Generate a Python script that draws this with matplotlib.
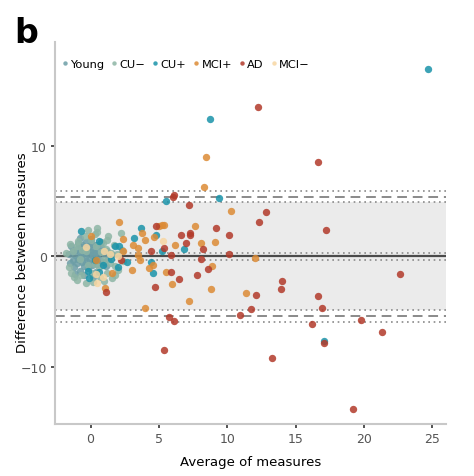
import numpy as np
import matplotlib
matplotlib.use("Agg")
import matplotlib.pyplot as plt

# Bland-Altman style data
young_x = [-1.6, -1.5, -1.4, -1.3, -1.3, -1.2, -1.1, -1.0, -1.0, -0.9, -0.9, -0.8, -0.8, -0.7,
           -0.7, -0.6, -0.6, -0.5, -0.5, -0.4, -0.4, -0.3, -0.3, -0.2, -0.2, -0.1, -0.1, 0.0,
           0.0, 0.1, 0.1, 0.2, 0.2, 0.3, 0.3, 0.4, 0.5, 0.5, 0.6, 0.7, 0.8, 0.9, 1.0, 1.1,
           1.2, 1.3, 1.5, -1.1, -0.5, 0.0, 0.4, 0.8, -0.8, 0.2]
young_y = [0.2, -0.6, 0.9, -0.3, 0.5, -1.0, 0.1, 0.7, -0.6, -0.2, 1.2, 0.4, -1.3, 0.0,
           0.8, -0.5, 1.0, 0.3, -0.9, -0.1, 0.6, 1.3, -0.4, 0.2, -1.1, 0.9, -0.6, 0.4,
           -0.2, 1.1, -0.8, 0.0, 0.6, -0.4, 0.3, 1.0, -0.7, 0.1, 0.5, -0.3, 0.8, -0.5, 0.2, -0.9,
           0.5, -0.2, 0.1, -1.6, -1.7, 1.6, -1.4, 1.3, 1.7, -1.9]

cu_neg_x = [-1.8, -1.6, -1.5, -1.3, -1.2, -1.0, -1.0, -0.9, -0.7, -0.6, -0.4, -0.3, -0.2, -0.2,
            0.0, 0.1, 0.3, 0.4, 0.5, 0.5, 0.6, 0.8, 0.9, 1.0, 1.1, 1.2, 1.3, 1.4, 1.5, 1.6,
            1.7, 1.8, 1.9, 2.0, 2.2, 2.3, 2.4, -1.4, -0.8, 0.2, 0.7, 1.2, 1.8, -0.3, 0.3, 1.0]
cu_neg_y = [0.3, -1.0, 1.1, 0.5, -1.9, 0.9, -2.1, 1.4, -1.7, 0.6, 1.8, -2.4, 2.4, -0.8,
            1.5, -1.5, 2.0, 0.9, 2.6, 2.2, -1.0, 0.4, 1.2, -0.3, 0.7, -1.5, 1.8, -0.6, 0.3, -2.0,
            1.0, -1.7, 0.2, -1.2, 2.1, 0.6, -0.4, -1.5, -0.2, -2.3, -1.9, 1.5, -0.9, 0.5, -0.7, -2.2]

cu_pos_x = [24.7, 8.74, 5.5, 9.4, 6.8, 3.7, 4.8, 3.2, 5.2, 2.7, 4.45, 4.55, 17.1, -0.7,
            0.63, 1.8, 2.1, -0.17, -0.1, 0.88, 0.6, 0.3, 1.5, 2.0]
cu_pos_y = [16.9, 12.4, 5.0, 5.25, 0.66, 2.6, 1.95, 1.65, 0.5, -0.5, -0.5, -1.5, -7.7, 2.3,
            1.36, 0.96, 0.9, -1.3, -2.0, -0.76, -1.4, -0.3, -0.2, -1.0]

mci_pos_x = [8.43, 8.3, 7.65, 8.1, 9.1, 6.2, 5.0, 5.2, 5.4, 3.8, 4.65, 4.0, 3.07, 3.5,
             3.45, 3.6, 3.04, 4.27, 4.55, 5.5, 5.97, 8.9, 8.8, 7.2, 4.0, 10.26, 12.0, 11.4,
             2.1, 0.07, 2.37, 2.4, 1.05, 0.4, 1.6]
mci_pos_y = [9.0, 6.25, 2.77, 1.2, 1.3, 1.0, 2.75, 2.8, 2.85, 2.1, 1.77, 1.5, 1.02, 0.75,
             0.15, -0.3, -1.24, -1.08, -0.75, -1.4, -2.5, -0.9, -3.0, -4.0, -4.7, 4.1, -0.15, -3.3,
             3.1, 1.8, 1.56, 0.5, -2.9, -0.3, -1.5]

ad_x = [12.25, 16.65, 6.0, 6.1, 7.2, 9.2, 7.27, 7.3, 6.6, 7.0, 8.2, 5.4, 5.9, 4.8,
        5.85, 6.5, 4.7, 7.8, 8.6, 8.05, 10.1, 10.1, 12.8, 12.3, 17.2, 14.0, 13.9, 12.1,
        16.6, 11.7, 10.9, 16.9, 16.2, 22.6, 5.73, 6.1, 5.4, 17.1, 13.3, 19.8, 21.3, 19.2,
        1.1, 2.2, 4.45]
ad_y = [13.5, 8.5, 5.4, 5.5, 4.6, 2.6, 2.08, 1.9, 1.9, 1.2, 0.66, 0.75, 0.14, 2.7,
        -1.4, -2.05, -2.8, -1.66, -1.15, -0.25, 1.9, 0.2, 4.0, 3.07, 2.4, -2.25, -3.0, -3.5,
        -3.6, -4.8, -5.3, -4.7, -6.1, -1.6, -5.46, -5.85, -8.5, -7.8, -9.2, -5.75, -6.8, -13.8,
        -3.2, -0.35, 0.45]

mci_neg_x = [0.4, 0.5, 1.0, -0.3, 2.0, 5.3, 0.9, 1.4]
mci_neg_y = [-1.6, -2.4, 0.5, 0.8, 0.0, 1.4, -1.9, 0.2]

groups = ["Young", "CU\u2212", "CU+", "MCI+", "AD", "MCI\u2212"]
colors = ["#6c9ea6", "#8db5a5", "#1a93a9", "#dc8b35", "#b23a2a", "#f7d6a2"]

# limits of agreement
mean_diff = 0.0
mean_ci = 0.3
upper_loa, upper_ci = 5.39, (4.88, 5.92)
lower_loa, lower_ci = -5.37, (-4.83, -5.94)

fig = plt.figure(figsize=(4.74, 4.77), dpi=100)
ax = fig.add_axes([0.116, 0.109, 0.825, 0.801])

ax.axhspan(lower_ci[0], upper_ci[0], color="#ebebeb", lw=0, zorder=0)
ax.axhline(mean_diff, color="#4a4a4a", lw=1.6, zorder=1)
for v in (mean_diff - mean_ci, mean_diff + mean_ci):
    ax.axhline(v, color="#8a8a8a", lw=1.2, ls=(0, (1, 2.2)), zorder=1)
for loa, ci in ((upper_loa, upper_ci), (lower_loa, lower_ci)):
    ax.axhline(loa, color="#8a8a8a", lw=1.4, ls=(0, (5, 3)), zorder=1)
    for v in ci:
        ax.axhline(v, color="#8a8a8a", lw=1.2, ls=(0, (1, 2.2)), zorder=1)

data = [(young_x, young_y), (cu_neg_x, cu_neg_y), (cu_pos_x, cu_pos_y),
        (mci_pos_x, mci_pos_y), (ad_x, ad_y), (mci_neg_x, mci_neg_y)]
for (x, y), name, c in zip(data, groups, colors):
    ax.scatter(x, y, s=28, color=c, alpha=0.85, lw=0, label=name, zorder=3)

ax.set_xlim(-2.6, 26.0)
ax.set_ylim(-15.16, 19.38)
ax.set_xticks([0, 5, 10, 15, 20, 25])
ax.set_yticks([-10, 0, 10])
ax.set_yticklabels(["\u221210", "0", "10"])

for s in ("top", "right"):
    ax.spines[s].set_visible(False)
for s in ("left", "bottom"):
    ax.spines[s].set_color("#c8c8c8")
    ax.spines[s].set_linewidth(1.5)
ax.tick_params(length=3, width=1.2, color="#333333", labelcolor="#555555", labelsize=9, pad=3)

ax.set_xlabel("Average of measures", fontsize=9.5, labelpad=7)
ax.set_ylabel("Difference between measures", fontsize=9.5)
ax.yaxis.set_label_coords(-0.066, 0.45)

ax.legend(loc="upper left", bbox_to_anchor=(0.0, 0.975), ncol=6, frameon=False,
          fontsize=8.2, handlelength=0.3, handletextpad=0.3, columnspacing=0.75,
          markerscale=0.6, borderaxespad=0.3, scatterpoints=1, scatteryoffsets=[0.5])

fig.text(0.03, 0.91, "b", fontsize=24, fontweight="bold")

fig.savefig("out.png", dpi=100)
